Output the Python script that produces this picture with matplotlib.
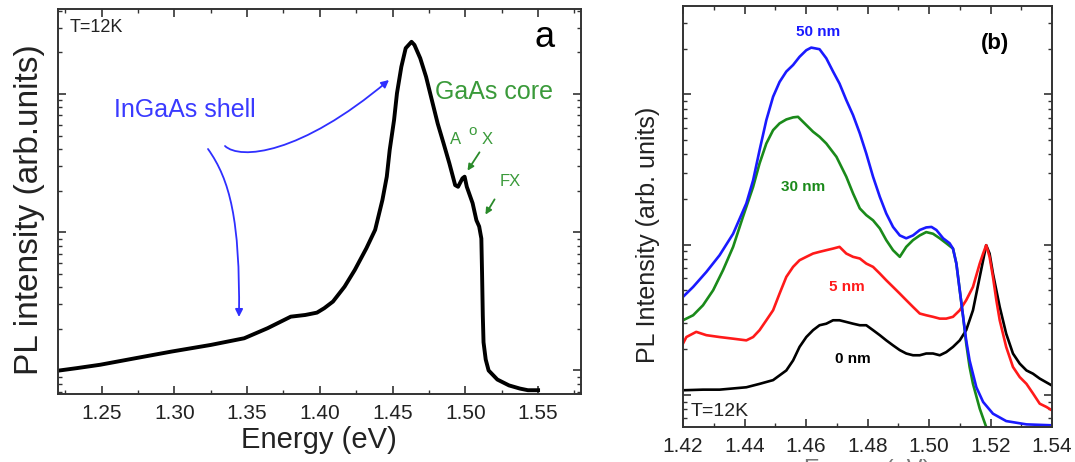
import matplotlib
matplotlib.use("Agg")
import matplotlib.pyplot as plt
from matplotlib.ticker import MultipleLocator, FormatStrFormatter, NullFormatter
from matplotlib.patches import FancyArrowPatch
from matplotlib.path import Path

plt.rcParams["font.family"] = ["Liberation Sans", "DejaVu Sans"]

# panel a: PL spectrum, T = 12 K (arb. units)
energy_a = [1.221, 1.233, 1.249, 1.272, 1.298, 1.325, 1.348, 1.364, 1.380, 1.390,
            1.398, 1.403, 1.409, 1.417, 1.424, 1.432, 1.438, 1.443, 1.446, 1.448,
            1.451, 1.453, 1.456, 1.459, 1.463, 1.465, 1.469, 1.473, 1.477, 1.481,
            1.485, 1.489, 1.493, 1.495, 1.498, 1.4995, 1.501, 1.505, 1.5076, 1.5095,
            1.511, 1.5115, 1.512, 1.5125, 1.514, 1.516, 1.522, 1.530, 1.5375, 1.543,
            1.550]
intensity_a = [1.00, 1.04, 1.10, 1.22, 1.37, 1.53, 1.71, 2.02, 2.45, 2.52,
               2.62, 2.82, 3.15, 4.04, 5.33, 7.66, 10.4, 17.1, 25.2, 39.3,
               64.7, 101, 157, 214, 238, 226, 181, 133, 90, 61,
               44, 31.5, 21.9, 21.3, 24.5, 25.2, 21.3, 16.2, 12.2, 11.0,
               9.0, 5.0, 2.5, 1.6, 1.2, 1.0, 0.86, 0.78, 0.74, 0.72,
               0.72]

# panel b: shell thickness series
energy_50nm = [1.4200, 1.4233, 1.4276, 1.4319, 1.4363, 1.4406, 1.4428, 1.4449, 1.4471, 1.4493,
               1.4514, 1.4536, 1.4558, 1.4579, 1.4601, 1.4617, 1.4644, 1.4666, 1.4688, 1.4709,
               1.4731, 1.4753, 1.4775, 1.4796, 1.4818, 1.4840, 1.4861, 1.4883, 1.4905, 1.4926,
               1.4948, 1.4970, 1.4991, 1.5008, 1.5024, 1.5046, 1.5067, 1.5078, 1.5089, 1.5100,
               1.5111, 1.5121, 1.5132, 1.5154, 1.5176, 1.5208, 1.5251, 1.5317, 1.5400]
pl_50nm = [4.48, 5.22, 6.57, 8.49, 11.8, 18.8, 26.8, 42.5, 67.4, 96.5,
           121, 142, 157, 178, 197, 205, 200, 174, 142, 118,
           91.7, 72.8, 55.0, 40.4, 28.3, 20.8, 16.1, 13.1, 11.5, 11.0,
           11.5, 12.5, 13.0, 13.1, 12.5, 11.0, 10.2, 9.40, 7.47, 4.96,
           3.30, 2.30, 1.69, 1.12, 0.894, 0.747, 0.667, 0.634, 0.625]

energy_30nm = [1.4200, 1.4233, 1.4265, 1.4298, 1.4330, 1.4363, 1.4395, 1.4428, 1.4449, 1.4471,
               1.4493, 1.4514, 1.4536, 1.4558, 1.4574, 1.4601, 1.4623, 1.4644, 1.4666, 1.4699,
               1.4731, 1.4753, 1.4775, 1.4796, 1.4818, 1.4840, 1.4861, 1.4883, 1.4905, 1.4926,
               1.4948, 1.4970, 1.4991, 1.5013, 1.5035, 1.5056, 1.5078, 1.5089, 1.5100, 1.5111,
               1.5121, 1.5132, 1.5143, 1.5165, 1.5186, 1.5197]
pl_30nm = [3.13, 3.38, 3.94, 4.96, 6.74, 9.65, 15.3, 24.2, 34.7, 47.1,
           57.8, 64.1, 68.1, 70.3, 70.9, 62.5, 56.4, 52.2, 47.1, 38.4,
           28.3, 21.9, 17.4, 15.7, 14.5, 12.8, 10.7, 9.17, 8.28, 9.65,
           10.7, 11.5, 12.1, 11.8, 11.0, 10.2, 9.40, 7.47, 4.96, 3.30,
           2.19, 1.53, 1.18, 0.807, 0.609, 0.522]

energy_5nm = [1.4200, 1.4211, 1.4243, 1.4276, 1.4319, 1.4363, 1.4406, 1.4428, 1.4449, 1.4471,
              1.4493, 1.4514, 1.4536, 1.4558, 1.4579, 1.4601, 1.4623, 1.4644, 1.4666, 1.4688,
              1.4709, 1.4731, 1.4753, 1.4775, 1.4796, 1.4818, 1.4840, 1.4861, 1.4883, 1.4905,
              1.4926, 1.4948, 1.4970, 1.4991, 1.5013, 1.5035, 1.5056, 1.5078, 1.5100, 1.5121,
              1.5143, 1.5165, 1.5176, 1.5186, 1.5197, 1.5208, 1.5219, 1.5230, 1.5251, 1.5273,
              1.5295, 1.5317, 1.5338, 1.5360, 1.5382, 1.5400]
pl_5nm = [2.19, 2.42, 2.62, 2.49, 2.42, 2.36, 2.30, 2.42, 2.69, 3.13,
          3.65, 4.71, 6.09, 7.10, 7.86, 8.28, 8.71, 8.94, 9.17, 9.40,
          9.65, 8.71, 8.28, 8.07, 7.47, 7.10, 6.41, 5.78, 5.22, 4.71,
          4.26, 3.84, 3.47, 3.38, 3.30, 3.21, 3.21, 3.30, 3.65, 4.26,
          5.22, 7.47, 8.71, 9.90, 8.28, 6.09, 4.26, 3.13, 2.08, 1.53,
          1.31, 1.18, 1.02, 0.871, 0.828, 0.786]

energy_0nm = [1.4200, 1.4265, 1.4319, 1.4363, 1.4406, 1.4449, 1.4493, 1.4536, 1.4558, 1.4579,
              1.4601, 1.4623, 1.4644, 1.4666, 1.4688, 1.4709, 1.4731, 1.4753, 1.4775, 1.4796,
              1.4818, 1.4840, 1.4861, 1.4883, 1.4905, 1.4926, 1.4948, 1.4970, 1.4991, 1.5013,
              1.5035, 1.5056, 1.5078, 1.5100, 1.5121, 1.5143, 1.5165, 1.5186, 1.5197, 1.5208,
              1.5230, 1.5251, 1.5273, 1.5295, 1.5317, 1.5338, 1.5360, 1.5400]
pl_0nm = [1.07, 1.08, 1.08, 1.10, 1.12, 1.18, 1.25, 1.45, 1.69, 2.08,
          2.42, 2.69, 2.90, 2.97, 3.13, 3.13, 3.05, 2.97, 2.90, 2.90,
          2.69, 2.49, 2.30, 2.13, 1.98, 1.88, 1.83, 1.83, 1.88, 1.88,
          1.83, 1.92, 2.08, 2.30, 2.69, 3.65, 6.09, 9.90, 8.71, 6.41,
          3.84, 2.55, 1.88, 1.61, 1.45, 1.38, 1.28, 1.15]

series_b = [
    (energy_0nm, pl_0nm, "black", "0 nm", 0.461, 0.162),
    (energy_5nm, pl_5nm, "#ff1a1a", "5 nm", 0.444, 0.333),
    (energy_30nm, pl_30nm, "#1a8a1a", "30 nm", 0.325, 0.570),
    (energy_50nm, pl_50nm, "#1a1aff", "50 nm", 0.366, 0.938),
]

W, H = 1075, 462
fig = plt.figure(figsize=(W / 100, H / 100), dpi=100)


def style_axes(ax, major, minor, size):
    ax.set_yscale("log")
    ax.xaxis.set_major_locator(MultipleLocator(major))
    ax.xaxis.set_minor_locator(MultipleLocator(minor))
    ax.xaxis.set_major_formatter(FormatStrFormatter("%.2f"))
    ax.yaxis.set_major_formatter(NullFormatter())
    ax.yaxis.set_minor_formatter(NullFormatter())
    ax.tick_params(which="both", direction="in", top=True, right=True,
                   color="#333333", labelsize=size, labelcolor="#222222")
    ax.tick_params(which="major", length=6, width=1.2, pad=7)
    ax.tick_params(which="minor", length=3, width=1.0)
    for sp in ax.spines.values():
        sp.set_linewidth(1.4)
        sp.set_color("#333333")


# ---- panel a ----
ax1 = fig.add_axes([58 / W, 1 - 394 / H, 523 / W, 385 / H])
ax1.plot(energy_a, intensity_a, color="black", lw=2.8)
ax1.set_xlim(1.22, 1.5795)
ax1.set_ylim(0.676, 411)
style_axes(ax1, 0.05, 0.025, 15)

fig.text(30 / W, 1 - 210 / H, "PL intensity (arb.units)", rotation=90,
         ha="center", va="center", fontsize=24, color="#222222")
fig.text(319 / W, 1 - 440 / H, "Energy (eV)", ha="center", va="center",
         fontsize=21, color="#222222")

ax1.text(0.022, 0.953, "T=12K", transform=ax1.transAxes, fontsize=13,
         ha="left", va="center", color="#222222")
ax1.text(0.931, 0.925, "a", transform=ax1.transAxes, fontsize=26,
         ha="center", va="center", color="black")
ax1.text(0.107, 0.738, "InGaAs shell", transform=ax1.transAxes, fontsize=18,
         ha="left", va="center", color="#3a3aff")
ax1.text(0.721, 0.784, "GaAs core", transform=ax1.transAxes, fontsize=18,
         ha="left", va="center", color="#3a9a3a")
ax1.text(0.761, 0.660, "A", transform=ax1.transAxes, fontsize=12,
         ha="center", va="center", color="#3a9a3a")
ax1.text(0.792, 0.683, "o", transform=ax1.transAxes, fontsize=11,
         ha="center", va="center", color="#3a9a3a")
ax1.text(0.820, 0.660, "X", transform=ax1.transAxes, fontsize=12,
         ha="center", va="center", color="#3a9a3a")
ax1.text(0.864, 0.551, "FX", transform=ax1.transAxes, fontsize=12,
         ha="center", va="center", color="#3a9a3a")


def pa(x, y):
    # panel a pixel -> axes fraction
    return ((x - 58) / 523, 1 - (y - 9) / 385)


for p0, p1 in [((481, 150), (466, 173)), ((496, 197), (484, 217))]:
    ax1.annotate("", xy=pa(*p1), xytext=pa(*p0), xycoords="axes fraction",
                 arrowprops=dict(arrowstyle="-|>", color="#2a8a2a", lw=1.3,
                                 mutation_scale=9))

blue_paths = [
    [(208, 149), (230, 180), (240, 220), (239, 317)],
    [(225, 146), (240, 160), (300, 155), (389, 80)],
]
for pts in blue_paths:
    path = Path([pa(*p) for p in pts],
                [Path.MOVETO, Path.CURVE4, Path.CURVE4, Path.CURVE4])
    arr = FancyArrowPatch(path=path, arrowstyle="-|>", color="#2f2fff", lw=1.3,
                          mutation_scale=11, transform=ax1.transAxes)
    ax1.add_patch(arr)

# ---- panel b ----
ax2 = fig.add_axes([683 / W, 1 - 427 / H, 369 / W, 421 / H])
for ex, pl, col, lab, tx, ty in series_b:
    ax2.plot(ex, pl, color=col, lw=1.9)
    ax2.text(tx, ty, lab, transform=ax2.transAxes, color=col, fontsize=11,
             ha="center", va="center", fontweight="bold")
ax2.set_xlim(1.42, 1.54)
ax2.set_ylim(0.609, 388)
style_axes(ax2, 0.02, 0.01, 15)

ax2.text(0.846, 0.912, "(b)", transform=ax2.transAxes, fontsize=16,
         fontweight="bold", ha="center", va="center")
ax2.text(0.02, 0.036, "T=12K", transform=ax2.transAxes, fontsize=14,
         ha="left", va="center", color="#222222")
fig.text(648 / W, 1 - 235 / H, "PL Intensity (arb. units)", rotation=90,
         ha="center", va="center", fontsize=18, color="#222222")
# axis title of panel b sits mostly below the picture's lower edge
fig.text(867 / W, 1 - 470 / H, "Energy (eV)", ha="center", va="center",
         fontsize=17, color="#777777")

fig.savefig("out.png", dpi=100)
